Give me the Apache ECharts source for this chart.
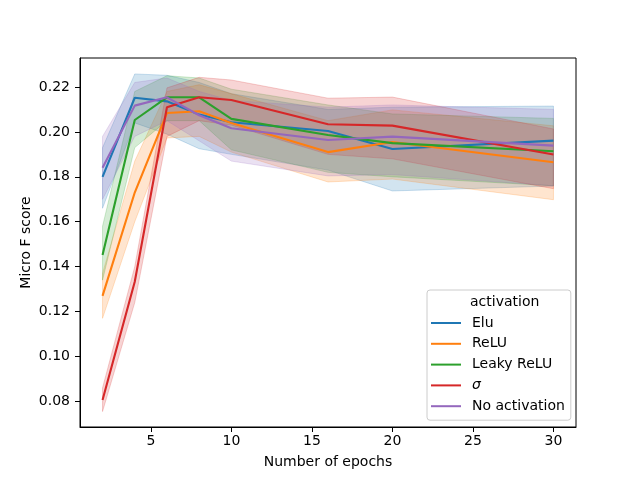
<!DOCTYPE html>
<html>
<head>
<meta charset="utf-8">
<script src="https://cdn.jsdelivr.net/npm/echarts@6/dist/echarts.min.js"></script>
<style>
  html, body { margin: 0; padding: 0; background: #fff; }
  #chart { width: 640px; height: 480px; }
</style>
</head>
<body>
<div id="chart"></div>
<script>
const epochs = [2, 4, 6, 8, 10, 16, 20, 30]
const xTicks = [5, 10, 15, 20, 25, 30]
const yTicks = [0.08, 0.10, 0.12, 0.14, 0.16, 0.18, 0.20, 0.22]

const names = ["Elu", "ReLU", "Leaky ReLU", "σ", "No activation"]
const colors = ["#1f77b4", "#ff7f0e", "#2ca02c", "#d62728", "#9467bd"]

const eluMean = [0.180, 0.2152, 0.2136, 0.2077, 0.2043, 0.2004, 0.1924, 0.1961]
const eluLow = [0.166, 0.204, 0.199, 0.1925, 0.190, 0.183, 0.1737, 0.1759]
const eluHigh = [0.193, 0.2258, 0.2252, 0.222, 0.217, 0.210, 0.211, 0.2115]

const reluMean = [0.127, 0.173, 0.2084, 0.2092, 0.204, 0.191, 0.1955, 0.1865]
const reluLow = [0.117, 0.160, 0.1973, 0.198, 0.191, 0.1777, 0.179, 0.1698]
const reluHigh = [0.137, 0.187, 0.218, 0.221, 0.217, 0.205, 0.2098, 0.2027]

const leakyMean = [0.1452, 0.2053, 0.2154, 0.2154, 0.2058, 0.1986, 0.195, 0.1914]
const leakyLow = [0.134, 0.193, 0.205, 0.205, 0.192, 0.182, 0.180, 0.176]
const leakyHigh = [0.158, 0.218, 0.225, 0.224, 0.219, 0.212, 0.208, 0.206]

const sigmaMean = [0.0806, 0.1333, 0.211, 0.2154, 0.2142, 0.2034, 0.2028, 0.1899]
const sigmaLow = [0.0755, 0.124, 0.198, 0.205, 0.203, 0.190, 0.188, 0.1747]
const sigmaHigh = [0.086, 0.140, 0.2196, 0.2243, 0.2231, 0.215, 0.2155, 0.2013]

const noneMean = [0.184, 0.2117, 0.2154, 0.2074, 0.2016, 0.1964, 0.1979, 0.1939]
const noneLow = [0.170, 0.198, 0.205, 0.196, 0.187, 0.1804, 0.181, 0.176]
const noneHigh = [0.198, 0.222, 0.224, 0.218, 0.214, 0.211, 0.212, 0.210]

const means = [eluMean, reluMean, leakyMean, sigmaMean, noneMean]
const lows = [eluLow, reluLow, leakyLow, sigmaLow, noneLow]
const highs = [eluHigh, reluHigh, leakyHigh, sigmaHigh, noneHigh]

const FONT = "DejaVu Sans"

function withAlpha(hex, alpha) {
  const n = parseInt(hex.slice(1), 16)
  return `rgba(${(n >> 16) & 255}, ${(n >> 8) & 255}, ${n & 255}, ${alpha})`
}

function pairs(values) {
  return epochs.map((x, i) => [x, values[i]])
}

// one polygon per band: upper edge left to right, lower edge back
function bandRenderer(k) {
  return (params, api) => {
    const upper = epochs.map((x, i) => api.coord([x, highs[k][i]]))
    const lower = epochs.map((x, i) => api.coord([x, lows[k][i]])).reverse()
    return {
      type: "polygon",
      shape: { points: upper.concat(lower) },
      style: { fill: withAlpha(colors[k], 0.2), stroke: withAlpha(colors[k], 0.22), lineWidth: 1 }
    }
  }
}

const series = []
names.forEach((name, k) => {
  series.push({
    name,
    type: "line",
    symbol: "none",
    color: colors[k],
    lineStyle: { width: 2.1, color: colors[k] },
    data: pairs(means[k])
  })
  series.push({
    name: `${name} band`,
    type: "custom",
    silent: true,
    clip: true,
    renderItem: bandRenderer(k),
    data: [[epochs[0], means[k][0]]]
  })
})

const chart = echarts.init(document.getElementById("chart"), null, { renderer: "canvas" })

chart.setOption({
  animation: false,
  backgroundColor: "#fff",
  textStyle: { fontFamily: FONT },
  grid: {
    left: 80, right: 64, top: 58, bottom: 53,
    show: true, borderColor: "#000", borderWidth: 1, backgroundColor: "transparent"
  },
  xAxis: {
    type: "value",
    min: 0.6,
    max: 31.4,
    name: "Number of epochs",
    nameLocation: "middle",
    nameGap: 28,
    nameTextStyle: { fontFamily: FONT, fontSize: 14, color: "#000" },
    splitLine: { show: false },
    axisLine: { show: true, lineStyle: { color: "#000", width: 1 } },
    axisTick: { show: true, length: 5, customValues: xTicks, lineStyle: { color: "#000" } },
    axisLabel: { customValues: xTicks, margin: 7, fontFamily: FONT, fontSize: 14, color: "#000" }
  },
  yAxis: {
    type: "value",
    min: 0.0686,
    max: 0.2329,
    name: "Micro F score",
    nameLocation: "middle",
    nameGap: 47,
    nameMoveOverlap: false,
    nameTextStyle: { fontFamily: FONT, fontSize: 14, color: "#000" },
    splitLine: { show: false },
    axisLine: { show: true, lineStyle: { color: "#000", width: 1 } },
    axisTick: { show: true, length: 5, customValues: yTicks, lineStyle: { color: "#000" } },
    axisLabel: {
      customValues: yTicks,
      margin: 10,
      fontFamily: FONT,
      fontSize: 14,
      color: "#000",
      formatter: (v) => v.toFixed(2)
    }
  },
  legend: {
    data: names,
    orient: "vertical",
    left: 427,
    top: 290,
    padding: [26, 6, 7, 4],
    itemWidth: 30,
    itemHeight: 2,
    itemGap: 6.8,
    icon: "rect",
    borderColor: "#cccccc",
    borderWidth: 1,
    borderRadius: 3,
    backgroundColor: "rgba(255,255,255,0.8)",
    selectedMode: false,
    formatter: (name) => (name === "σ" ? "{i|σ}" : name),
    textStyle: {
      fontFamily: FONT,
      fontSize: 14,
      lineHeight: 14,
      color: "#000",
      padding: [0, 0, 0, 6],
      rich: { i: { fontStyle: "italic", fontFamily: FONT, fontSize: 14, lineHeight: 14 } }
    }
  },
  graphic: [{
    type: "text",
    left: 470,
    top: 295,
    z: 100,
    style: { text: "activation", fontFamily: FONT, fontSize: 14, fill: "#000" }
  }],
  series
})
</script>
</body>
</html>
